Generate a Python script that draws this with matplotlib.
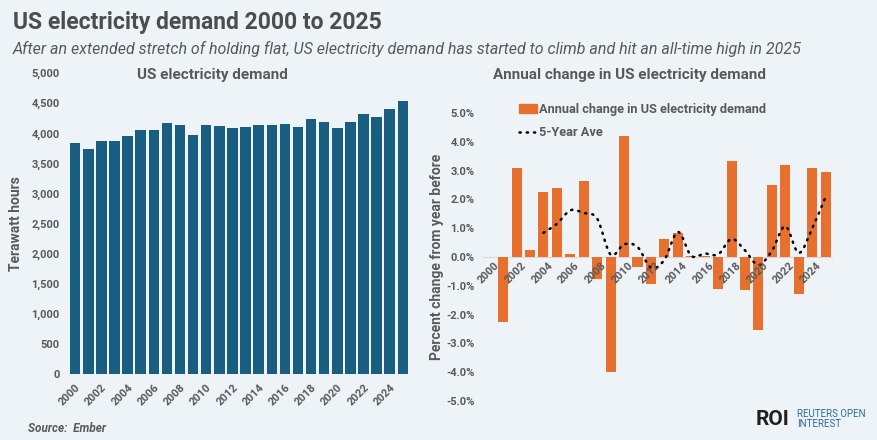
import numpy as np
import matplotlib.pyplot as plt
from matplotlib.path import Path
from matplotlib.patches import PathPatch
from matplotlib.lines import Line2D
from matplotlib.patches import Patch

plt.rcParams['font.family'] = ['Roboto', 'DejaVu Sans']

# DATA
years = list(range(2000, 2026))
demand_twh = [3835, 3740, 3867, 3872, 3956, 4055, 4061, 4172, 4133, 3972,
              4133, 4122, 4083, 4111, 4139, 4139, 4155, 4105, 4239, 4189,
              4083, 4189, 4322, 4272, 4400, 4528]
# annual change in %, 2000 has no value
annual_change = [np.nan, -2.25, 3.10, 0.25, 2.25, 2.40, 0.12, 2.65, -0.75, -4.00,
                 4.20, -0.35, -0.95, 0.62, 0.85, 0.02, 0.05, -1.10, 3.35, -1.15,
                 -2.55, 2.50, 3.20, -1.30, 3.10, 2.95]
ave_years = list(range(2004, 2026))
five_year_ave = [0.84, 1.15, 1.62, 1.53, 1.33, 0.08, 0.44, 0.35, -0.37, -0.10,
                 0.87, 0.04, 0.12, 0.09, 0.63, 0.23, -0.28, 0.21, 1.07, 0.14,
                 0.99, 2.09]
tick_years = [str(y) for y in range(2000, 2025, 2)]

BG = '#eef3f8'
BLUE = '#195e81'
ORANGE = '#e8702e'
GRAY = '#595959'
DOTS = (0, (0.5, 2.4))

fig = plt.figure(figsize=(8.78, 4.4), dpi=100, facecolor=BG)

fig.text(13 / 878, 1 - 22 / 440, 'US electricity demand 2000 to 2025', fontsize=16.5,
         fontweight='bold', color='#4d4d4d', va='center', ha='left')
fig.text(13 / 878, 1 - 49 / 440,
         'After an extended stretch of holding flat, US electricity demand has started '
         'to climb and hit an all-time high in 2025',
         fontsize=11.5, style='italic', color=GRAY, va='center', ha='left')

# left chart
ax1 = fig.add_axes([68 / 878, 1 - 374 / 440, 342 / 878, 301 / 440])
ax1.set_facecolor(BG)
x = np.arange(len(years))
ax1.bar(x, demand_twh, width=0.8, color=BLUE)
ax1.set_ylim(0, 5000)
ax1.set_xlim(-0.55, len(years) - 0.45)
ax1.set_yticks(range(0, 5001, 500))
ax1.set_yticklabels([f'{v:,}' for v in range(0, 5001, 500)])
ax1.set_xticks(x[::2])
ax1.set_xticklabels(tick_years, rotation=45, ha='right', rotation_mode='anchor')
ax1.tick_params(length=0, labelsize=8, labelcolor=GRAY, pad=6)
for lab in ax1.get_xticklabels() + ax1.get_yticklabels():
    lab.set_fontweight('bold')
for s in ax1.spines.values():
    s.set_visible(False)
ax1.set_ylabel('Terawatt hours', fontsize=10, fontweight='bold', color=GRAY, labelpad=6)
fig.text(212 / 878, 1 - 75 / 440, 'US electricity demand', fontsize=11,
         fontweight='bold', color=GRAY, ha='center', va='center')

# right chart
ax2 = fig.add_axes([483 / 878, 1 - 401 / 440, 350 / 878, 288 / 440])
ax2.set_facecolor(BG)
ax2.bar(x, annual_change, width=0.75, color=ORANGE)
ax2.axhline(0, color='#d9d9d9', lw=0.8, zorder=0)
ax2.set_ylim(-5, 5)
ax2.set_xlim(-0.5, len(years) - 0.45)

# smoothed dotted line (bezier, like the spreadsheet smoothing)
xa = np.array([years.index(y) for y in ave_years], dtype=float)
ya = np.array(five_year_ave)
verts = [(xa[0], ya[0])]
codes = [Path.MOVETO]
n = len(xa)
for i in range(n - 1):
    p0 = (xa[max(i - 1, 0)], ya[max(i - 1, 0)])
    p1 = (xa[i], ya[i])
    p2 = (xa[i + 1], ya[i + 1])
    p3 = (xa[min(i + 2, n - 1)], ya[min(i + 2, n - 1)])
    c1 = (p1[0] + (p2[0] - p0[0]) / 6, p1[1] + (p2[1] - p0[1]) / 6)
    c2 = (p2[0] - (p3[0] - p1[0]) / 6, p2[1] - (p3[1] - p1[1]) / 6)
    verts += [c1, c2, p2]
    codes += [Path.CURVE4] * 3
ax2.add_patch(PathPatch(Path(verts, codes), fill=False, edgecolor='black', lw=1.8,
                        linestyle=DOTS, capstyle='round', zorder=3))

ax2.set_yticks(range(-5, 6))
ax2.set_yticklabels([f'{v:.1f}%' for v in range(-5, 6)])
ax2.set_xticks(x[::2])
ax2.set_xticklabels([])
ax2.tick_params(length=0, labelsize=8, labelcolor=GRAY, pad=6)
for lab in ax2.get_yticklabels():
    lab.set_fontweight('bold')
for xi, lab in zip(x[::2], tick_years):
    ax2.text(xi + 0.3, -0.1, lab, rotation=45, ha='right', va='top',
             rotation_mode='anchor', fontsize=8, fontweight='bold', color=GRAY)
for s in ax2.spines.values():
    s.set_visible(False)
ax2.set_ylabel('Percent change from year before', fontsize=10, fontweight='bold',
               color=GRAY, labelpad=2)
fig.text(630 / 878, 1 - 75 / 440, 'Annual change in US electricity demand', fontsize=11,
         fontweight='bold', color=GRAY, ha='center', va='center')

handles = [Patch(color=ORANGE),
           Line2D([], [], color='black', lw=1.8, linestyle=DOTS, dash_capstyle='round')]
leg = ax2.legend(handles, ['Annual change in US electricity demand', '5-Year Ave'],
                 loc='upper left', bbox_to_anchor=(0.07, 1.075), frameon=False,
                 handlelength=1.4, handletextpad=0.15, labelspacing=0.8,
                 prop={'size': 9.2, 'weight': 'bold'})
for t in leg.get_texts():
    t.set_color(GRAY)

fig.text(28 / 878, 1 - 428 / 440, 'Source:  Ember', fontsize=8.5, style='italic',
         fontweight='bold', color=GRAY, va='center')
fig.text(756 / 878, 1 - 419 / 440, 'ROI', fontsize=15, fontweight='bold',
         color='#1f1f1f', va='center')
fig.text(797 / 878, 1 - 419 / 440, 'REUTERS OPEN\nINTEREST', fontsize=7,
         color='#2b6ca3', va='center', linespacing=1.0)

plt.savefig('out.png', dpi=100, facecolor=BG)
